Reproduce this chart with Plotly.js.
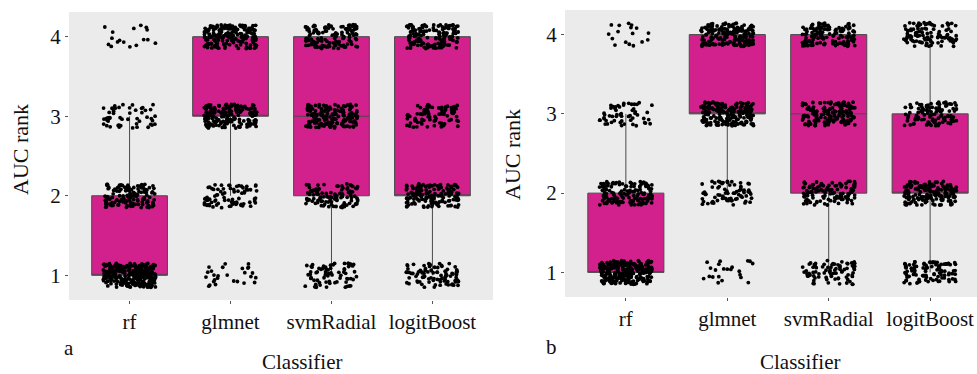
<!DOCTYPE html>
<html>
<head>
<meta charset="utf-8">
<script src="https://cdn.plot.ly/plotly-3.0.1.min.js"></script>
<style>
html,body{margin:0;padding:0;overflow:hidden;background:#fff;}
#chart{width:995px;height:374px;}
#prime{position:absolute;left:0;top:0;font-family:'Liberation Serif';font-size:20px;color:#fff;opacity:0.01;pointer-events:none;}
</style>
</head>
<body>
<div id="prime">AUC rank Classifier rf glmnet svmRadial logitBoost 1234 a b</div>
<div id="chart"></div>
<script>
// Categories and tick labels
const classifiers = ["rf", "glmnet", "svmRadial", "logitBoost"];
const ranks = [1, 2, 3, 4];

// Number of datasets at each AUC rank (1,2,3,4) (estimates)
// Panel a
const countsA_rf         = [270, 135, 50, 17];
const countsA_glmnet     = [27, 78, 182, 185];
const countsA_svmRadial  = [72, 108, 168, 124];
const countsA_logitBoost = [90, 152, 85, 145];
// Panel b
const countsB_rf         = [260, 140, 55, 17];
const countsB_glmnet     = [22, 72, 192, 186];
const countsB_svmRadial  = [78, 112, 148, 134];
const countsB_logitBoost = [100, 158, 112, 102];

const panelA = [countsA_rf, countsA_glmnet, countsA_svmRadial, countsA_logitBoost];
const panelB = [countsB_rf, countsB_glmnet, countsB_svmRadial, countsB_logitBoost];

const BOX_FILL = "#D2218C";
const BOX_LINE = "#4a4a4a";
const FONT = "Liberation Serif";

// Deterministic hash spread used only to display the jitter of the points
function hash01(n) {
  let h = (n * 2654435761) >>> 0;
  h ^= h >>> 16; h = Math.imul(h, 0x45d9f3b) >>> 0;
  h ^= h >>> 16; h = Math.imul(h, 0x45d9f3b) >>> 0;
  h ^= h >>> 16;
  return (h >>> 0) / 4294967296;
}
const JX = 0.26, JY = 0.15;

function buildTraces(panel, xa, ya, seed) {
  const bx = [], by = [];
  const px = [], py = [];
  let k = seed;
  panel.forEach((counts, ci) => {
    const pos = ci + 1;
    counts.forEach((n, ri) => {
      for (let i = 0; i < n; i++) {
        bx.push(pos); by.push(ranks[ri]);
        k++;
        px.push(pos + (hash01(2 * k + 1) - 0.5) * 2 * JX);
        py.push(ranks[ri] + (hash01(2 * k + 7919) - 0.5) * 2 * JY);
      }
    });
  });
  return [{
    type: "box", x: bx, y: by, xaxis: xa, yaxis: ya,
    width: 0.75, boxpoints: "outliers", whiskerwidth: 0,
    marker: {opacity: 0, size: 1},
    fillcolor: BOX_FILL, line: {color: BOX_LINE, width: 1},
    hoverinfo: "skip", showlegend: false
  }, {
    type: "scatter", mode: "markers", x: px, y: py, xaxis: xa, yaxis: ya,
    marker: {color: "#000", size: 3.8, line: {width: 0}},
    hoverinfo: "skip", showlegend: false
  }];
}

const data = [].concat(buildTraces(panelA, "x", "y", 0), buildTraces(panelB, "x2", "y2", 5000));

const W = 995, H = 374;
const TXT = "#111111";
const xAxisCommon = {
  range: [0.4, 4.6], tickvals: [1, 2, 3, 4], ticktext: classifiers,
  showgrid: false, zeroline: false, showline: false,
  ticks: "outside", ticklen: 3, tickcolor: "#555", tickwidth: 1,
  tickfont: {family: FONT, size: 21, color: TXT}, fixedrange: true
};
const yAxisCommon = {
  range: [0.69, 4.31], tickvals: ranks, ticktext: ranks.map(String),
  showgrid: false, zeroline: false, showline: false,
  ticks: "outside", ticklen: 3, tickcolor: "#555", tickwidth: 1,
  tickfont: {family: FONT, size: 21, color: TXT}, fixedrange: true
};

function ann(text, px, py, opts) {
  return Object.assign({
    text: text, xref: "paper", yref: "paper", x: px / W, y: 1 - py / H,
    xanchor: "center", yanchor: "middle", showarrow: false,
    font: {family: FONT, size: 21, color: TXT}
  }, opts || {});
}

const layout = {
  width: W, height: H,
  margin: {l: 0, r: 0, t: 0, b: 0},
  paper_bgcolor: "#ffffff", plot_bgcolor: "#EBEBEB",
  showlegend: false,
  font: {family: FONT, color: TXT},
  xaxis: Object.assign({}, xAxisCommon, {domain: [69 / W, 493 / W], anchor: "y"}),
  yaxis: Object.assign({}, yAxisCommon, {domain: [(H - 300) / H, (H - 12) / H], anchor: "x"}),
  xaxis2: Object.assign({}, xAxisCommon, {domain: [565 / W, 991 / W], anchor: "y2"}),
  yaxis2: Object.assign({}, yAxisCommon, {domain: [(H - 297) / H, (H - 10) / H], anchor: "x2"}),
  annotations: [
    ann("AUC rank", 20, 150, {textangle: -90, font: {family: FONT, size: 22, color: TXT}}),
    ann("AUC rank", 512, 155, {textangle: -90, font: {family: FONT, size: 22, color: TXT}}),
    ann("Classifier", 302, 362),
    ann("Classifier", 800, 362),
    ann("a", 69, 348),
    ann("b", 551, 347)
  ]
};

function draw() {
  Plotly.newPlot("chart", data, layout, {staticPlot: true, displayModeBar: false});
}
if (document.fonts && document.fonts.load) {
  document.fonts.load('21px "Liberation Serif"').then(draw, draw);
} else {
  draw();
}
</script>
</body>
</html>
